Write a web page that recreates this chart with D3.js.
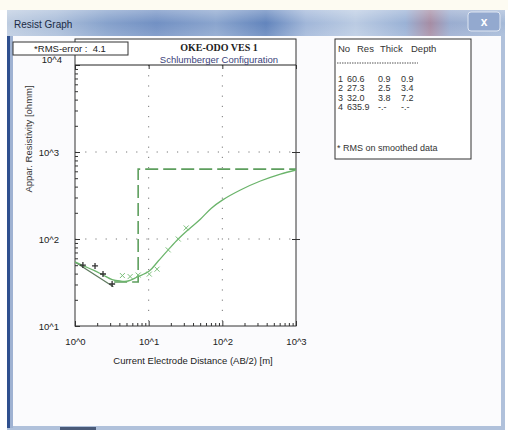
<!DOCTYPE html>
<html><head><meta charset="utf-8">
<script src="https://cdn.jsdelivr.net/npm/d3@7"></script>
<style>body{margin:0;background:#fff}svg{display:block}text{font-family:"Liberation Sans",Arial,sans-serif}</style>
</head><body>
<script>
// ---- data ----
const layerNo = [1, 2, 3, 4];
const layerRes = [60.6, 27.3, 32.0, 635.9];
const layerThick = ["0.9", "2.5", "3.8", "-.-"];
const layerDepth = [0.9, 3.4, 7.2, null];
const rmsError = 4.1;

const fitAB  = [1.0, 1.28, 1.81, 2.4, 3.19, 4.1, 5.26, 7.0, 10.2, 13.5, 18.4, 25.2, 36.7, 50.3, 71, 100, 176, 329, 615, 1000];
const fitRho = [54.5, 49.5, 43.5, 38.6, 34.2, 32.9, 32.9, 36.6, 42.9, 55.8, 74.9, 100, 134, 169, 226, 280, 366, 464, 558, 621];

const smoothAB  = [4.4, 5.6, 7.2, 10.2, 13.0, 18.4, 25.2, 32.3];
const smoothRho = [38, 37, 38.5, 39.5, 45, 75, 100, 134];

const fieldAB  = [1.28, 1.87, 2.40, 3.19];
const fieldRho = [50.2, 49, 39.6, 30.4];

const fieldLineAB  = [1.0, 3.32];
const fieldLineRho = [54.5, 28.3];

const xTicks = [1, 10, 100, 1000];
const yTicks = [10, 100, 1000, 10000];
const xTickLabels = ["10^0", "10^1", "10^2", "10^3"];
const yTickLabels = ["10^1", "10^2", "10^3", "10^4"];

// ---- drawing ----
const W = 508, H = 432;
const svg = d3.select("body").append("svg").attr("width", W).attr("height", H);
const defs = svg.append("defs");

const tg = defs.append("linearGradient").attr("id", "tbar");
[[0,"#bccbe0"],[0.1,"#a8bcd9"],[0.2,"#84a0cb"],[0.3,"#6f8ec2"],[0.42,"#88a3cd"],[0.52,"#5f82bb"],[0.6,"#9fb5d8"],[0.7,"#b9cae2"],[0.8,"#98b0d5"],[0.85,"#a48aa2"],[0.89,"#98abcf"],[1,"#a3b8d7"]]
  .forEach(([o,c]) => tg.append("stop").attr("offset", o).attr("stop-color", c));
const tv = defs.append("linearGradient").attr("id", "tshine").attr("x1",0).attr("x2",0).attr("y1",0).attr("y2",1);
tv.append("stop").attr("offset",0).attr("stop-color","#fff").attr("stop-opacity",0.3);
tv.append("stop").attr("offset",0.5).attr("stop-color","#fff").attr("stop-opacity",0.02);
tv.append("stop").attr("offset",1).attr("stop-color","#fff").attr("stop-opacity",0.15);

// window
svg.append("rect").attr("x",0).attr("y",0).attr("width",W).attr("height",H).attr("fill","#fff");
svg.append("rect").attr("x",0).attr("y",0).attr("width",W).attr("height",10).attr("fill","#fdfbf2");
svg.append("rect").attr("x",7).attr("y",10).attr("width",498).attr("height",420).attr("fill","#b0c1db");
svg.append("rect").attr("x",7).attr("y",10).attr("width",498).attr("height",26).attr("fill","url(#tbar)");
svg.append("rect").attr("x",7).attr("y",10).attr("width",498).attr("height",26).attr("fill","url(#tshine)");
svg.append("rect").attr("x",7).attr("y",36).attr("width",3).attr("height",392).attr("fill","#2f4f8e");
svg.append("rect").attr("x",10).attr("y",36).attr("width",3).attr("height",392).attr("fill","#9fb2d2");
svg.append("rect").attr("x",13).attr("y",36).attr("width",488).attr("height",390).attr("fill","#fbfbfd");
svg.append("rect").attr("x",60).attr("y",427).attr("width",36).attr("height",3).attr("fill","#4a5a78");
svg.append("text").attr("x",14).attr("y",28).attr("font-size",10).attr("fill","#1b2b45").text("Resist Graph");
svg.append("rect").attr("x",468).attr("y",12).attr("width",32).attr("height",19).attr("rx",3)
  .attr("fill","#93a9cf").attr("stroke","#dfe6f2").attr("stroke-width",1);
svg.append("text").attr("x",484).attr("y",26).attr("text-anchor","middle").attr("font-size",12)
  .attr("font-weight","bold").attr("fill","#fff").text("x");

// scales
const x = d3.scaleLog().domain([1, 1000]).range([75, 296]);
const y = d3.scaleLog().domain([10, 10000]).range([326, 65]);

// chart frame (title area + plot)
svg.append("rect").attr("x",75).attr("y",39).attr("width",221).attr("height",287)
  .attr("fill","#fff").attr("stroke","#333").attr("stroke-width",1);

// grid (dotted)
const grid = svg.append("g").attr("stroke","#777").attr("stroke-width",1).attr("stroke-dasharray","1.2,9");
[10, 100].forEach(v => {
  grid.append("line").attr("x1",x(v)).attr("x2",x(v)).attr("y1",y(10000)).attr("y2",y(10));
  grid.append("line").attr("x1",x(1)).attr("x2",x(1000)).attr("y1",y(v*10)).attr("y2",y(v*10));
});

// minor ticks
const minorX = [], minorY = [];
[1,10,100].forEach(d => { for (let k = 2; k <= 9; k++) minorX.push(d*k); });
[10,100,1000].forEach(d => { for (let k = 2; k <= 9; k++) minorY.push(d*k); });
svg.append("g").attr("transform","translate(0,326)")
  .call(d3.axisBottom(x).tickValues(minorX).tickSize(-3).tickFormat(""))
  .call(g => g.select(".domain").remove());
svg.append("g").attr("transform","translate(75,0)")
  .call(d3.axisLeft(y).tickValues(minorY).tickSize(-3).tickFormat(""))
  .call(g => g.select(".domain").remove());
// major ticks
svg.append("g").attr("transform","translate(0,326)")
  .call(d3.axisBottom(x).tickValues(xTicks).tickSize(-5).tickFormat(""))
  .call(g => g.select(".domain").remove());
svg.append("g").attr("transform","translate(0,65)")
  .call(d3.axisBottom(x).tickValues(xTicks).tickSize(4).tickFormat(""))
  .call(g => g.select(".domain").remove());
svg.append("g").attr("transform","translate(75,0)")
  .call(d3.axisLeft(y).tickValues(yTicks).tickSize(-5).tickFormat(""))
  .call(g => g.select(".domain").remove());
svg.append("g").attr("transform","translate(296,0)")
  .call(d3.axisRight(y).tickValues([100,1000]).tickSize(4).tickFormat(""))
  .call(g => g.select(".domain").remove());
svg.append("g").attr("transform","translate(296,0)")
  .call(d3.axisLeft(y).tickValues([100,1000]).tickSize(4).tickFormat(""))
  .call(g => g.select(".domain").remove());
svg.selectAll(".tick line").attr("stroke","#333");

// plot top line
svg.append("line").attr("x1",75).attr("x2",296).attr("y1",65).attr("y2",65).attr("stroke","#222");

// tick labels
svg.append("g").attr("transform","translate(0,326)")
  .call(d3.axisBottom(x).tickValues(xTicks).tickSize(0).tickPadding(12).tickFormat((d,i) => xTickLabels[i]))
  .call(g => g.select(".domain").remove())
  .call(g => g.selectAll("text").attr("font-size",9.5).attr("fill","#222"));
svg.append("g").attr("transform","translate(75,0)")
  .call(d3.axisLeft(y).tickValues(yTicks).tickSize(0).tickPadding(16).tickFormat((d,i) => yTickLabels[i]))
  .call(g => g.select(".domain").remove())
  .call(g => g.selectAll("text").attr("font-size",9.5).attr("fill","#222"))
  .call(g => g.selectAll(".tick").filter(d => d === 10000).select("text").attr("dy","-0.25em").attr("x",-13));

// clip
defs.append("clipPath").attr("id","plotclip").append("rect")
  .attr("x",75).attr("y",65).attr("width",221).attr("height",261);
const plot = svg.append("g").attr("clip-path","url(#plotclip)");

// model step line (visible from the 3rd layer on)
const stepPts = [];
for (let i = 2; i < layerRes.length; i++) {
  const start = layerDepth[i-1];
  const end = layerDepth[i] === null ? 2000 : layerDepth[i];
  stepPts.push([start, layerRes[i]]); stepPts.push([end, layerRes[i]]);
}
plot.append("path").datum(stepPts)
  .attr("d", d3.line().x(d => x(d[0])).y(d => y(d[1])))
  .attr("fill","none").attr("stroke","#5d9e5d").attr("stroke-width",1.6).attr("stroke-dasharray","13,5");

// field line
plot.append("path").datum(fieldLineAB.map((a,i) => [a, fieldLineRho[i]]))
  .attr("d", d3.line().x(d => x(d[0])).y(d => y(d[1])))
  .attr("fill","none").attr("stroke","#5f7a5f").attr("stroke-width",1.2);

// fitted curve
plot.append("path").datum(fitAB.map((a,i) => [a, fitRho[i]]))
  .attr("d", d3.line().x(d => x(d[0])).y(d => y(d[1])).curve(d3.curveCatmullRom.alpha(0.5)))
  .attr("fill","none").attr("stroke","#6bb46b").attr("stroke-width",1.3);

// smoothed data markers (x)
const sm = plot.append("g").attr("stroke","#7abf7a").attr("stroke-width",1);
smoothAB.forEach((a,i) => {
  const cx = x(a), cy = y(smoothRho[i]);
  sm.append("path").attr("d",`M${cx-2.5},${cy-2.5}L${cx+2.5},${cy+2.5}M${cx-2.5},${cy+2.5}L${cx+2.5},${cy-2.5}`);
});
// field data markers (+)
const fm = plot.append("g").attr("stroke","#333").attr("stroke-width",1.3);
fieldAB.forEach((a,i) => {
  const cx = x(a), cy = y(fieldRho[i]);
  fm.append("path").attr("d",`M${cx-3},${cy}L${cx+3},${cy}M${cx},${cy-3}L${cx},${cy+3}`);
});

// titles
svg.append("text").attr("x",219).attr("y",51).attr("text-anchor","middle")
  .style("font-family","'Liberation Serif', 'DejaVu Serif', serif").attr("font-weight","bold").attr("font-size",10)
  .attr("fill","#222").text("OKE-ODO VES 1");
svg.append("text").attr("x",219).attr("y",62.5).attr("text-anchor","middle").attr("font-size",9.5)
  .attr("fill","#3a3f7a").text("Schlumberger Configuration");
svg.append("text").attr("x",193).attr("y",364).attr("text-anchor","middle").attr("font-size",9.5)
  .attr("fill","#222").text("Current Electrode Distance (AB/2) [m]");
svg.append("text").attr("transform","translate(32,139) rotate(-90)").attr("text-anchor","middle")
  .attr("font-size",9.5).attr("fill","#333").text("Appar. Resistivity [ohmm]");

// RMS box
svg.append("rect").attr("x",13).attr("y",42).attr("width",115).attr("height",13)
  .attr("fill","#fff").attr("stroke","#333");
svg.append("text").attr("x",70).attr("y",52).attr("text-anchor","middle").attr("font-size",9.5)
  .attr("fill","#222").text("*RMS-error :\u00a0\u00a0" + rmsError.toFixed(1));

// table
svg.append("rect").attr("x",335).attr("y",39).attr("width",136).attr("height",120)
  .attr("fill","#fff").attr("stroke","#333");
const tb = svg.append("g").attr("font-size",9).attr("fill","#333");
const cols = [338, 347, 378, 401];
[["No",338],["Res",357],["Thick",380],["Depth",411]].forEach(([t,cx]) =>
  tb.append("text").attr("x",cx).attr("y",52).attr("font-size",9.5).text(t));
svg.append("line").attr("x1",337).attr("x2",418).attr("y1",63).attr("y2",63)
  .attr("stroke","#555").attr("stroke-dasharray","1.5,1");
layerNo.forEach((n,i) => {
  const yy = 82 + i*9.4;
  tb.append("text").attr("x",cols[0]).attr("y",yy).text(n);
  tb.append("text").attr("x",cols[1]).attr("y",yy).text(layerRes[i].toFixed(1));
  tb.append("text").attr("x",cols[2]).attr("y",yy).text(layerThick[i]);
  tb.append("text").attr("x",cols[3]).attr("y",yy).text(layerDepth[i] === null ? "-.-" : layerDepth[i].toFixed(1));
});
tb.append("text").attr("x",337).attr("y",151).text("* RMS on smoothed data");
</script>
</body></html>
